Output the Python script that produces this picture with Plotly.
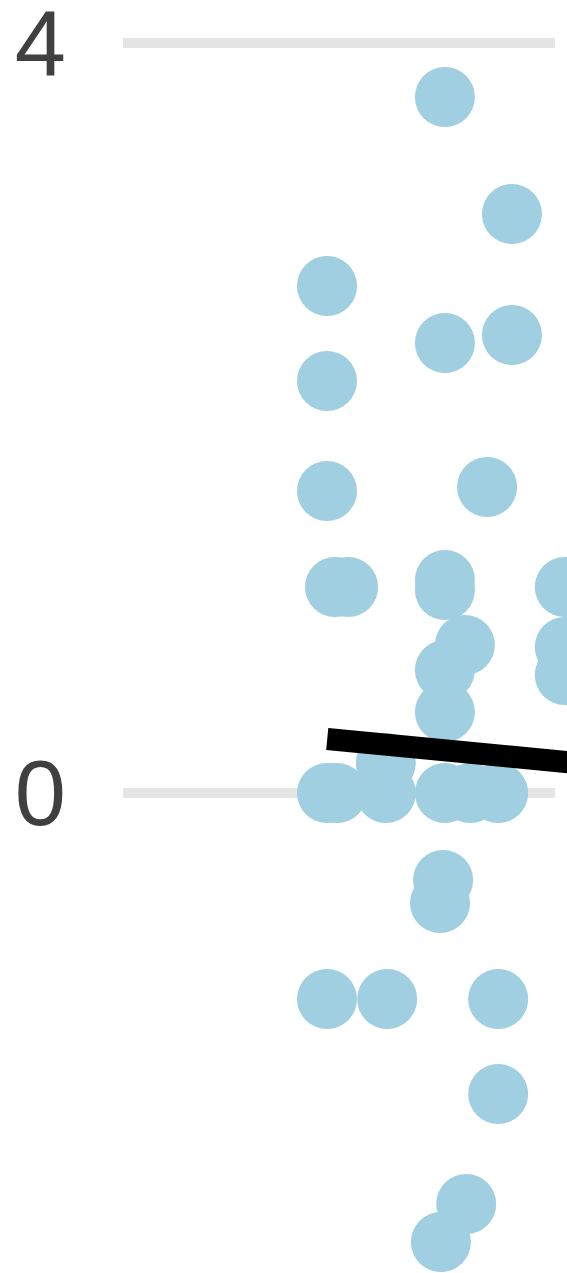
import plotly.graph_objects as go

# Data (x in arbitrary units, y values)
pts_x = [4.595, 4.595, 4.595, 4.775, 5.07, 4.595, 4.82, 5.92, 5.92, 4.595, 5.95,
         7.25, 7.25, 8.76, 8.76, 8.20, 7.25, 7.25, 7.70, 7.25, 7.25,
         9.95, 9.95, 9.95, 7.25, 7.82, 8.45, 7.21, 7.14, 8.45, 8.45, 7.73, 7.16]
pts_y = [2.704, 2.197, 1.611, 1.099, 1.099, 0.0, 0.0, 0.0, 0.16, -1.099, -1.099,
         3.712, 2.40, 2.443, 3.088, 1.632, 1.136, 1.083, 0.789, 0.656, 0.432,
         1.099, 0.779, 0.629, 0.0, 0.0, 0.0, -0.464, -0.587, -1.099, -1.605, -2.192, -2.395]

fit_x = [4.6, 10.3]
fit_y = [0.288, 0.158]

y_ticks = [0, 4]
y_tick_labels = ["0", "4"]

fig = go.Figure()
fig.add_trace(go.Scatter(
    x=pts_x, y=pts_y, mode="markers",
    marker=dict(size=60, color="#9fcfe0", line=dict(width=0)),
    cliponaxis=False, showlegend=False, hoverinfo="skip"))
fig.add_trace(go.Scatter(
    x=fit_x, y=fit_y, mode="lines",
    line=dict(color="black", width=22),
    showlegend=False, hoverinfo="skip"))

for t in y_ticks:
    fig.add_shape(type="line", xref="paper", yref="y", x0=0, x1=0.973, y0=t, y1=t,
                  line=dict(color="#e5e5e5", width=10), layer="below")

fig.update_layout(
    width=567, height=1273,
    margin=dict(l=123, r=0, t=0, b=0, autoexpand=False),
    paper_bgcolor="white", plot_bgcolor="white",
    xaxis=dict(range=[0, 10], showgrid=False, zeroline=False, showticklabels=False,
               showline=False, ticks="", automargin=False),
    yaxis=dict(range=[-2.56, 4.2293], tickvals=y_ticks, ticktext=y_tick_labels,
               showgrid=False, zeroline=False, showline=False, ticks="",
               automargin=False,
               ticklabelstandoff=56, ticklabeloverflow="allow",
               tickfont=dict(family="Liberation Sans, Arial, sans-serif", size=92, color="#404040")),
)

fig.write_html("out.html")
